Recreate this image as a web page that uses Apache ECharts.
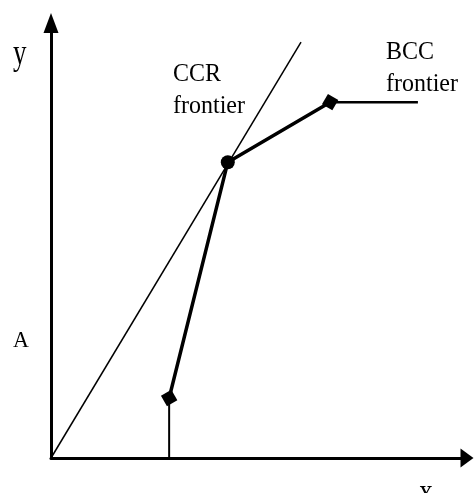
<!DOCTYPE html>
<html>
<head>
<meta charset="utf-8">
<script src="https://cdn.jsdelivr.net/npm/echarts@6/dist/echarts.min.js"></script>
<style>
  html, body { margin: 0; padding: 0; background: #fff; }
  #main { width: 475px; height: 493px; }
</style>
</head>
<body>
<div id="main"></div>
<script>
// chart data (arbitrary units)
const ccrLine = [[0, 0], [6.01, 9.56]];
const bccFrontier = [[2.84, 1.38], [4.25, 6.80], [6.71, 8.18]];
const bccVertical = [[2.84, 0], [2.84, 1.38]];
const bccHorizontal = [[6.71, 8.18], [8.82, 8.18]];
const markers = [[2.84, 1.38], [4.25, 6.80], [6.71, 8.18]];
const markerRotate = [30, 0, -30];
const markerShape = ['rect', 'circle', 'rect'];

const FONT = '"Liberation Serif", "DejaVu Serif", serif';

const chart = echarts.init(document.getElementById('main'), null, { renderer: 'canvas' });

function lineSeries(data, width) {
  return {
    type: 'line',
    data: data,
    showSymbol: false,
    symbol: 'none',
    silent: true,
    animation: false,
    lineStyle: { color: '#000', width: width }
  };
}

function txt(text, x, y, size, sy, align) {
  return {
    type: 'text',
    x: x,
    y: y,
    scaleY: sy || 1,
    style: {
      text: text,
      font: size + 'px ' + FONT,
      fill: '#000',
      textAlign: align || 'left',
      textVerticalAlign: 'middle'
    }
  };
}

const option = {
  backgroundColor: '#fff',
  animation: false,
  grid: { left: 51, right: 8, top: 23, bottom: 35 },
  xAxis: {
    type: 'value',
    min: 0,
    max: 10,
    splitLine: { show: false },
    axisTick: { show: false },
    axisLabel: { show: false },
    axisLine: {
      onZero: false,
      symbol: ['none', 'triangle'],
      symbolSize: [19, 13],
      lineStyle: { color: '#000', width: 3 }
    }
  },
  yAxis: {
    type: 'value',
    min: 0,
    max: 10,
    splitLine: { show: false },
    axisTick: { show: false },
    axisLabel: { show: false },
    axisLine: {
      show: true,
      onZero: false,
      symbol: ['none', 'triangle'],
      symbolSize: [15, 20],
      lineStyle: { color: '#000', width: 3 }
    }
  },
  series: [
    lineSeries(ccrLine, 1.5),
    lineSeries(bccFrontier, 3.5),
    lineSeries(bccVertical, 2),
    lineSeries(bccHorizontal, 2.5),
    {
      type: 'scatter',
      silent: true,
      data: markers.map(function (p, i) {
        return {
          value: p,
          symbol: markerShape[i],
          symbolRotate: markerRotate[i],
          symbolSize: i === 1 ? 14 : 12
        };
      }),
      itemStyle: { color: '#000', opacity: 1 }
    }
  ],
  graphic: [
    txt('y', 13, 54, 27, 1.35),
    txt('x', 426, 493, 27, 1.35, 'center'),
    txt('A', 13, 341, 22, 1.08),
    txt('CCR', 173, 74, 24, 1.08),
    txt('frontier', 173, 106, 24, 1.08),
    txt('BCC', 386, 52, 24, 1.08),
    txt('frontier', 386, 84, 24, 1.08)
  ]
};

chart.setOption(option);
</script>
</body>
</html>
